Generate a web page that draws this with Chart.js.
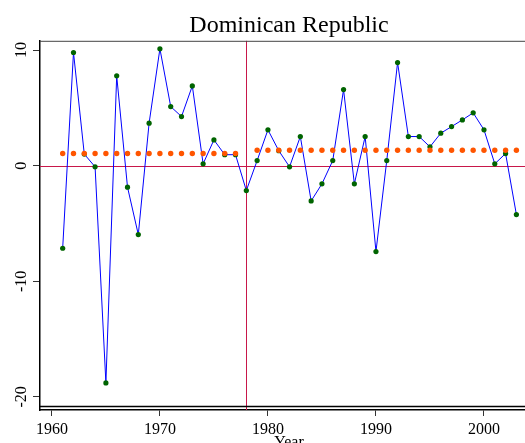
<!DOCTYPE html>
<html>
<head>
<meta charset="utf-8">
<script src="https://cdn.jsdelivr.net/npm/chart.js@4.4.1/dist/chart.umd.min.js"></script>
<style>
  html, body { margin: 0; padding: 0; background: #fff; }
  #wrap { width: 525px; height: 443px; overflow: hidden; }
  canvas { display: block; }
</style>
</head>
<body>
<div id="wrap"><canvas id="myChart" width="578" height="460"></canvas></div>
<script>
// data
const years = [1961, 1962, 1963, 1964, 1965, 1966, 1967, 1968, 1969, 1970,
               1971, 1972, 1973, 1974, 1975, 1976, 1977, 1978, 1979, 1980,
               1981, 1982, 1983, 1984, 1985, 1986, 1987, 1988, 1989, 1990,
               1991, 1992, 1993, 1994, 1995, 1996, 1997, 1998, 1999, 2000,
               2001, 2002, 2003];
const growth = [-7.14, 9.79, 1.0, -0.10, -18.79, 7.77, -1.86, -5.96, 3.68, 10.11,
                5.11, 4.25, 6.90, 0.16, 2.23, 0.95, 0.95, -2.15, 0.44, 3.10,
                1.3, -0.10, 2.52, -3.05, -1.57, 0.44, 6.58, -1.57, 2.52, -7.43,
                0.44, 8.92, 2.52, 2.52, 1.63, 2.81, 3.38, 3.96, 4.57, 3.10,
                0.16, 1.05, -4.23];

const preYears = [1961, 1962, 1963, 1964, 1965, 1966, 1967, 1968, 1969, 1970,
                  1971, 1972, 1973, 1974, 1975, 1976, 1977];
const preMean = [1.05, 1.05, 1.05, 1.05, 1.05, 1.05, 1.05, 1.05, 1.05, 1.05,
                 1.05, 1.05, 1.05, 1.05, 1.05, 1.05, 1.05];
const postYears = [1979, 1980, 1981, 1982, 1983, 1984, 1985, 1986, 1987, 1988,
                   1989, 1990, 1991, 1992, 1993, 1994, 1995, 1996, 1997, 1998,
                   1999, 2000, 2001, 2002, 2003];
const postMean = [1.34, 1.34, 1.34, 1.34, 1.34, 1.34, 1.34, 1.34, 1.34, 1.34,
                  1.34, 1.34, 1.34, 1.34, 1.34, 1.34, 1.34, 1.34, 1.34, 1.34,
                  1.34, 1.34, 1.34, 1.34, 1.34];

const breakYear = 1978;
const refValue = 0;
const xTicks = [1960, 1970, 1980, 1990, 2000];
const yTicks = [-20, -10, 0, 10];

const RED = "#c8174a";
const SERIF = "'Liberation Serif', 'DejaVu Serif', serif";

function pts(xs, ys) {
    return xs.map((x, i) => ({ x: x, y: ys[i] }));
}

// zero line, break line and the plot box edges
const frameLines = {
    id: "frameLines",
    beforeDatasetsDraw(chart) {
        const { ctx, chartArea: a, scales } = chart;
        const bx = Math.round(scales.x.getPixelForValue(breakYear)) + 0.5;
        const zy = Math.round(scales.y.getPixelForValue(refValue)) + 0.5;
        ctx.save();
        ctx.lineWidth = 1;
        ctx.strokeStyle = RED;
        ctx.beginPath();
        ctx.moveTo(bx, a.top);
        ctx.lineTo(bx, a.bottom);
        ctx.moveTo(a.left, zy);
        ctx.lineTo(a.right, zy);
        ctx.stroke();
        ctx.strokeStyle = "#444";
        ctx.beginPath();
        ctx.moveTo(a.left, a.top + 0.5);
        ctx.lineTo(a.right, a.top + 0.5);
        ctx.stroke();
        ctx.lineWidth = 1.5;
        ctx.strokeStyle = "#000";
        ctx.beginPath();
        ctx.moveTo(a.left, a.bottom - 3.5);
        ctx.lineTo(a.right, a.bottom - 3.5);
        ctx.stroke();
        ctx.restore();
    }
};

const ctx = document.getElementById("myChart").getContext("2d");

new Chart(ctx, {
    type: "line",
    data: {
        datasets: [
            {
                data: pts(years, growth),
                borderColor: "#0000ff",
                borderWidth: 1,
                pointRadius: 2.6,
                pointBackgroundColor: "#006400",
                pointBorderWidth: 0,
                tension: 0,
                order: 1
            },
            {
                data: pts(preYears, preMean),
                showLine: false,
                pointRadius: 2.7,
                pointBackgroundColor: "#ff5500",
                pointBorderWidth: 0,
                order: 0
            },
            {
                data: pts(postYears, postMean),
                showLine: false,
                pointRadius: 2.7,
                pointBackgroundColor: "#ff5500",
                pointBorderWidth: 0,
                order: 0
            }
        ]
    },
    options: {
        responsive: false,
        animation: false,
        devicePixelRatio: 1,
        layout: { padding: 0 },
        plugins: {
            legend: { display: false },
            tooltip: { enabled: false },
            title: {
                display: true,
                text: "Dominican Republic",
                color: "#000",
                font: { family: SERIF, size: 24, weight: "normal" },
                padding: { top: 11, bottom: 1 }
            }
        },
        scales: {
            x: {
                type: "linear",
                min: 1958.9,
                max: 2005,
                afterBuildTicks: s => { s.ticks = xTicks.map(v => ({ value: v })); },
                afterFit: s => { s.height = 50; },
                grid: { drawOnChartArea: false, tickLength: 6, tickColor: "#333" },
                border: { color: "#000", width: 1.5 },
                ticks: {
                    color: "#000",
                    font: { family: SERIF, size: 16 },
                    padding: 4,
                    maxRotation: 0,
                    callback: v => String(v)
                },
                title: {
                    display: true,
                    text: "Year",
                    color: "#000",
                    font: { family: SERIF, size: 16 },
                    padding: { top: 0, bottom: 7.6 }
                }
            },
            y: {
                type: "linear",
                min: -21.13,
                max: 10.8,
                afterBuildTicks: s => { s.ticks = yTicks.map(v => ({ value: v })); },
                afterFit: s => { s.width = 40; },
                grid: { drawOnChartArea: false, tickColor: "#333", tickLength: 7 },
                border: { color: "#000", width: 1.5 },
                ticks: {
                    color: "#000",
                    font: { family: SERIF, size: 16 },
                    minRotation: 90,
                    maxRotation: 90,
                    crossAlign: "center",
                    padding: 0.5,
                    callback: v => String(v)
                }
            },
            y2: {
                position: "right",
                grid: { display: false },
                border: { display: false },
                ticks: { display: false },
                afterFit: s => { s.width = 40; }
            }
        }
    },
    plugins: [frameLines]
});
</script>
</body>
</html>
